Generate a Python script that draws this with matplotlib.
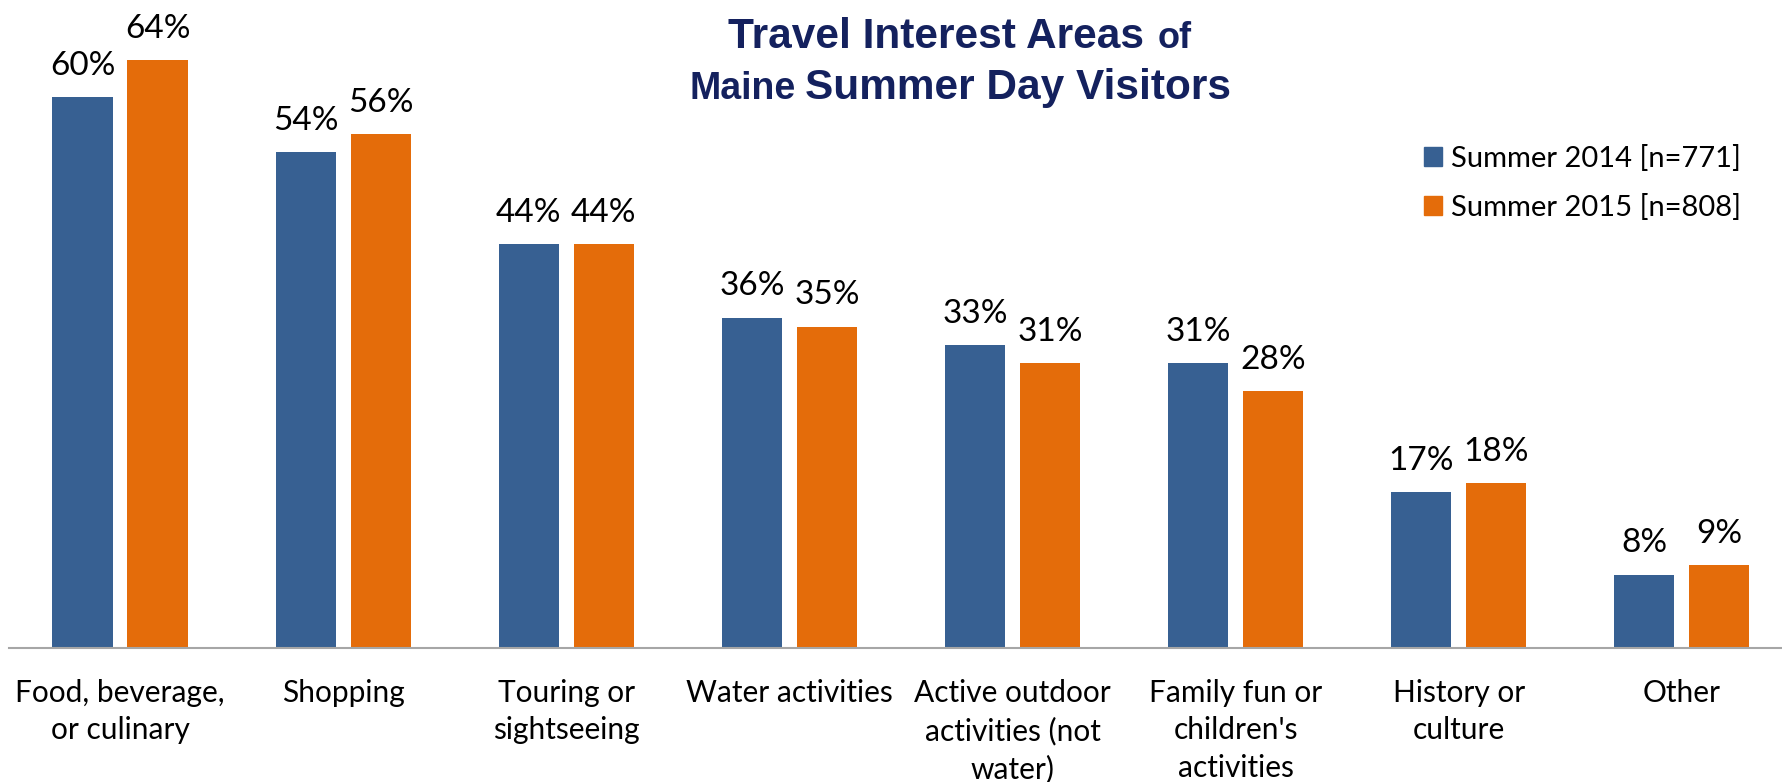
import matplotlib.pyplot as plt
import numpy as np
from matplotlib.offsetbox import TextArea, HPacker, AnchoredOffsetbox
from matplotlib.patches import Patch

plt.rcParams['font.family'] = ['Lato', 'DejaVu Sans']

categories = ['Food, beverage,\nor culinary', 'Shopping', 'Touring or\nsightseeing',
              'Water activities', 'Active outdoor\nactivities (not\nwater)',
              'Family fun or\nchildren\'s\nactivities', 'History or\nculture', 'Other']
summer_2014 = [60, 54, 44, 36, 33, 31, 17, 8]
summer_2015 = [64, 56, 44, 35, 31, 28, 18, 9]
series_names = ['Summer 2014 [n=771]', 'Summer 2015 [n=808]']

BLUE = '#376092'
ORANGE = '#E46C0A'
NAVY = '#14215E'

W, H = 1783, 782
fig = plt.figure(figsize=(W / 100, H / 100), dpi=100)
# axes spans almost the whole width, x axis line at y=648 px from top
ax = fig.add_axes([8.5 / W, (H - 648) / H, 1 - 8.5 / W, 648 / H])

x = np.arange(len(categories))
width = 0.27
off = 0.168
b1 = ax.bar(x - off, summer_2014, width, color=BLUE)
b2 = ax.bar(x + off, summer_2015, width, color=ORANGE)

for bars, vals in [(b1, summer_2014), (b2, summer_2015)]:
    for bar, v in zip(bars, vals):
        ax.annotate(f'{v}%', (bar.get_x() + bar.get_width() / 2, v),
                    xytext=(0, 16), textcoords='offset points',
                    ha='center', va='baseline', fontsize=24)

ax.set_xlim(-0.5, -0.5 + (W - 8.5) / 223.1)
ax.set_ylim(0, 648 / 9.18)
ax.set_xticks(x)
ax.set_xticklabels(categories, fontsize=21.5, linespacing=1.42, va='top')
ax.tick_params(axis='x', length=0, pad=22)
ax.set_yticks([])
for s in ['top', 'right', 'left']:
    ax.spines[s].set_visible(False)
ax.spines['bottom'].set_color('#A6A6A6')
ax.spines['bottom'].set_linewidth(1.5)

handles = [Patch(color=BLUE), Patch(color=ORANGE)]
fig.legend(handles, series_names, loc='center left',
           bbox_to_anchor=(1424 / W, (H - 183) / H), frameon=False,
           fontsize=21, handlelength=0.62, handleheight=0.62, handletextpad=0.3,
           labelspacing=0.75, borderpad=0, borderaxespad=0)

# title with mixed font sizes, two rows centred
tp_big = dict(fontsize=30.5, fontweight='bold', color=NAVY, family='Liberation Sans')
tp_of = dict(fontsize=26, fontweight='bold', color=NAVY, family='Liberation Sans')
tp_maine = dict(fontsize=27, fontweight='bold', color=NAVY, family='Liberation Sans')
row1 = HPacker(children=[TextArea('Travel Interest Areas', textprops=tp_big),
                         TextArea('of', textprops=tp_of)],
               align='baseline', pad=0, sep=10)
row2 = HPacker(children=[TextArea('Maine', textprops=tp_maine),
                         TextArea('Summer Day Visitors', textprops=tp_big)],
               align='baseline', pad=0, sep=7)
for row, top in [(row1, 17), (row2, 68)]:
    fig.add_artist(AnchoredOffsetbox(loc='upper center', child=row, pad=0, borderpad=0,
                                     bbox_to_anchor=(960 / W, 1 - top / H),
                                     bbox_transform=fig.transFigure, frameon=False))

fig.savefig('out.png', dpi=100)
